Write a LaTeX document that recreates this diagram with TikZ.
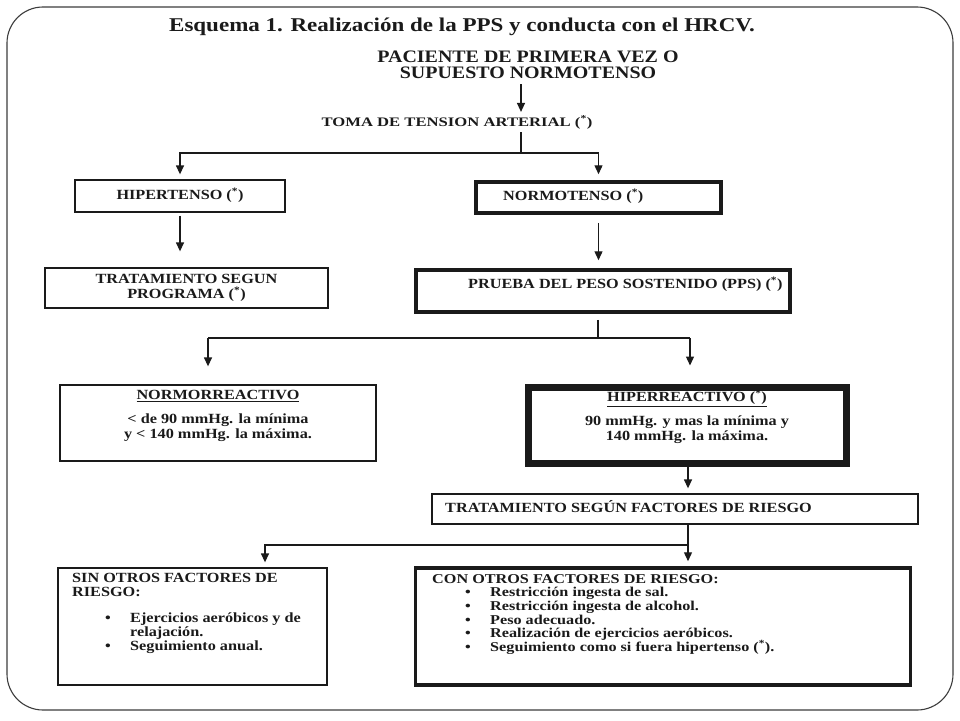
\documentclass[tikz,border=0pt]{standalone}
\usepackage{fontspec}
\setmainfont{Liberation Serif}[FakeStretch=1.16]
\newfontfamily\titlefont{Liberation Serif}[FakeStretch=1.18]
\newfontfamily\startfont{Liberation Serif}[FakeStretch=1.14]
\newfontfamily\tomafont{Liberation Serif}[FakeStretch=1.28]
\newfontfamily\listfont{Liberation Serif}[FakeStretch=1.2]
\usetikzlibrary{arrows.meta}
\definecolor{ink}{HTML}{1A1A1A}
\newcommand{\blt}[1]{\hspace*{33pt}\makebox[25pt][l]{\textbullet}#1}
\newcommand{\astmark}{(\smash{\textsuperscript{*}})}
\begin{document}
\begin{tikzpicture}[x=1pt,y=-1pt,
  every node/.style={font=\bfseries\fontsize{14}{13}\selectfont, text=ink, inner sep=0pt},
  thinbox/.style={draw=ink, line width=1.3pt},
  thickbox/.style={draw=ink, line width=3.5pt},
  heavybox/.style={draw=ink, line width=7pt},
  conn/.style={draw=ink, line width=1.3pt},
  arr/.style={draw=ink, line width=1.3pt, -{Triangle[length=9pt,width=8pt]}}]
\useasboundingbox (0,0) rectangle (960,720);
\fill[white] (0,0) rectangle (960,720);
\draw[draw=ink!85, line width=1.1pt, rounded corners=36pt] (7,7) rectangle (953,710);

% title and top
\node[font=\titlefont\bfseries\fontsize{19.5}{20}\selectfont] (title) at (462,27)
  {Esquema 1. Realización de la PPS y conducta con el HRCV.};
\node[font=\startfont\bfseries\fontsize{17.5}{16}\selectfont, align=center] (start) at (528,65)
  {PACIENTE DE PRIMERA VEZ O\\SUPUESTO NORMOTENSO};
\node[font=\tomafont\bfseries\fontsize{13}{13}\selectfont] (toma) at (457,123) {TOMA DE TENSION ARTERIAL \astmark};

% level 1 boxes
\node[thinbox, minimum width=210pt, minimum height=32pt] (hip) at (180,196) {HIPERTENSO \astmark};
\node[thinbox, minimum width=283pt, minimum height=40pt, align=center,
      font=\bfseries\fontsize{14}{15}\selectfont] (tprog) at (186.5,288)
  {TRATAMIENTO SEGUN\\PROGRAMA \astmark};
\node[thickbox, minimum width=245pt, minimum height=31pt] (normo) at (598.5,197.5) {};
\node[anchor=west] (normot) at (503,197) {NORMOTENSO \astmark};
\node[thickbox, minimum width=374pt, minimum height=42pt] (pps) at (603,291) {};
\node[anchor=west] (ppst) at (468,285) {PRUEBA DEL PESO SOSTENIDO (PPS) \astmark};

% level 2 boxes
\node[thinbox, minimum width=316pt, minimum height=76pt] (normr) at (218,423) {};
\node[align=center, font=\bfseries\fontsize{14}{15}\selectfont] (normrt) at (218,416)
  {\underline{NORMORREACTIVO}\\[9pt]< de 90 mmHg. la mínima\\y < 140 mmHg. la máxima.};
\node[heavybox, minimum width=318pt, minimum height=76pt] (hipr) at (687.5,425) {};
\node[align=center, font=\bfseries\fontsize{14}{15}\selectfont] (hiprt) at (687,418)
  {\underline{HIPERREACTIVO \astmark}\\[9pt]90 mmHg. y mas la mínima y\\140 mmHg. la máxima.};

\node[thinbox, minimum width=486pt, minimum height=30pt] (tfac) at (675,509) {};
\node[anchor=west] (tfact) at (445,507) {TRATAMIENTO SEGÚN FACTORES DE RIESGO};

% level 3 boxes
\node[thinbox, minimum width=269pt, minimum height=117pt] (sin) at (192.5,626.5) {};
\node[anchor=north west, align=left, font=\bfseries\fontsize{14}{14}\selectfont] (sint) at (72,573)
  {SIN OTROS FACTORES DE\\RIESGO:\\[12pt]\blt{Ejercicios aeróbicos y de}\\\hspace*{58pt}relajación.\\\blt{Seguimiento anual.}};
\node[thickbox, minimum width=495pt, minimum height=117pt] (con) at (663,626.5) {};
\node[anchor=north west, align=left, font=\listfont\bfseries\fontsize{13.5}{13.7}\selectfont] (cont) at (432,574)
  {CON OTROS FACTORES DE RIESGO:\\\blt{Restricción ingesta de sal.}\\\blt{Restricción ingesta de alcohol.}\\\blt{Peso adecuado.}\\\blt{Realización de ejercicios aeróbicos.}\\\blt{Seguimiento como si fuera hipertenso \astmark.}};

% connectors
\coordinate (ax) at (521,0);
\draw[arr, shorten <=5pt, shorten >=5pt] (start.south -| ax) -- (toma.north -| ax);
\coordinate (b1) at (521,153);
\draw[conn, shorten <=3pt] (toma.south -| b1) -- (b1);
\draw[arr, shorten >=5pt] (b1) -| (hip.north);
\draw[arr, shorten >=6pt] (b1) -| (normo.north);
\draw[arr, shorten <=3pt, shorten >=16pt] (hip.south) -- (hip.south |- tprog.north);
\draw[arr, shorten <=8pt, shorten >=8pt] (normo.south) -- (normo.south |- pps.north);

\coordinate (b2) at (598,338);
\coordinate (l2) at (208,338);
\coordinate (r2) at (690,338);
\draw[conn, shorten <=6pt] (pps.south -| b2) -- (b2);
\draw[conn] (l2) -- (r2);
\draw[arr, shorten >=18pt] (l2) -- (l2 |- normr.north);
\draw[arr, shorten >=18pt] (r2) -- (r2 |- hipr.north);

\coordinate (b3) at (688,545);
\coordinate (l3) at (265,545);
\draw[arr, shorten >=5pt] (hipr.south -| b3) -- (tfac.north -| b3);
\draw[conn] (tfac.south -| b3) -- (b3);
\draw[arr, shorten >=5pt] (b3) -| (l3 |- sin.north);
\draw[arr, shorten >=5pt] (b3) -- (b3 |- con.north);
\end{tikzpicture}
\end{document}
